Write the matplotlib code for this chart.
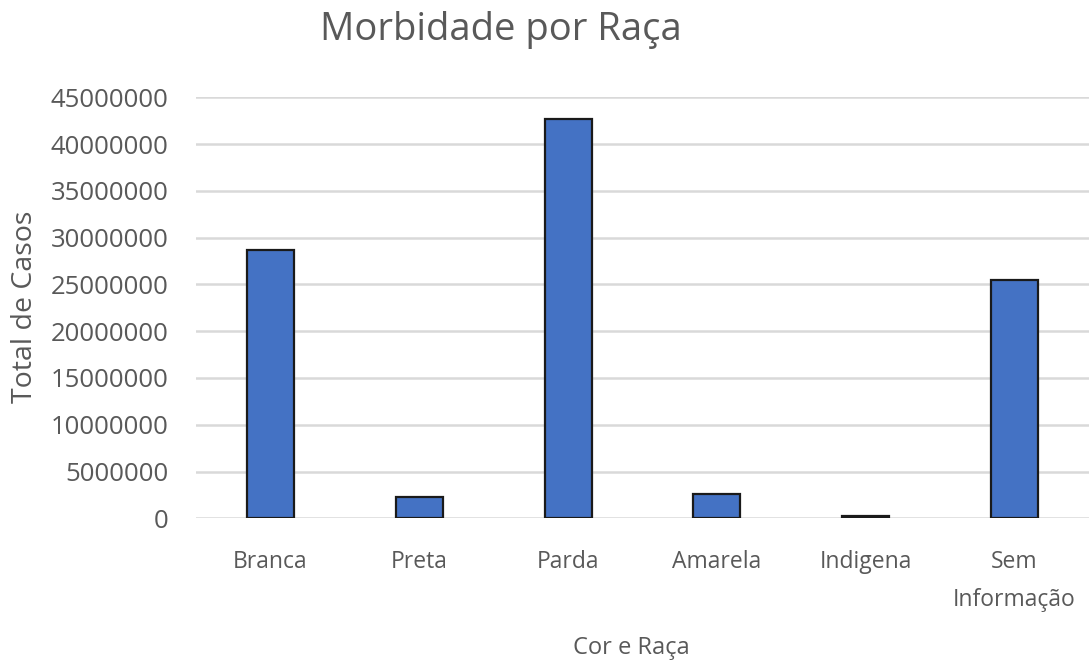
import matplotlib
matplotlib.use("Agg")
import matplotlib.pyplot as plt

categories = ["Branca", "Preta", "Parda", "Amarela", "Indigena", "Sem\nInformação"]
values = [28700000, 2250000, 42650000, 2600000, 210000, 25450000]
yticks = [0, 5000000, 10000000, 15000000, 20000000, 25000000, 30000000, 35000000, 40000000, 45000000]

plt.rcParams['font.family'] = ['Open Sans', 'DejaVu Sans']
text_color = "#595959"

fig = plt.figure(figsize=(10.89, 6.64), dpi=100)
ax = fig.add_axes([196/1089, (664-518.3)/664, 893/1089, (518.3-97.3)/664])

x = list(range(len(categories)))
ax.bar(x, values, width=0.315, color="#4472C4", edgecolor="#1a1a1a", linewidth=1.6, zorder=3)

ax.set_xlim(-0.5, len(categories) - 0.5)
ax.set_ylim(0, 45000000)
ax.set_yticks(yticks)
ax.set_yticklabels([str(v) for v in yticks], fontsize=18.5, color=text_color)
ax.set_xticks(x)
ax.set_xticklabels(categories, fontsize=16.5, color=text_color, linespacing=1.75)
ax.tick_params(axis='both', length=0)
ax.tick_params(axis='x', pad=23)
ax.tick_params(axis='y', pad=20)

ax.yaxis.grid(True, color="#D9D9D9", linewidth=1.8, zorder=0)
for s in ax.spines.values():
    s.set_visible(False)

ax.set_xlabel("Cor e Raça", fontsize=17, color=text_color, va="center", ha="center")
ax.xaxis.set_label_coords((631 - 196) / 893, (518.3 - 648) / 421)
ax.set_ylabel("Total de Casos", fontsize=20.5, color=text_color, va="center", ha="center")
ax.yaxis.set_label_coords((25 - 196) / 893, (518.3 - 307) / 421)
fig.text(501/1089, 1 - 30/664, "Morbidade por Raça", fontsize=27.5, color=text_color,
         ha="center", va="center")

fig.savefig("out.png", dpi=100)
